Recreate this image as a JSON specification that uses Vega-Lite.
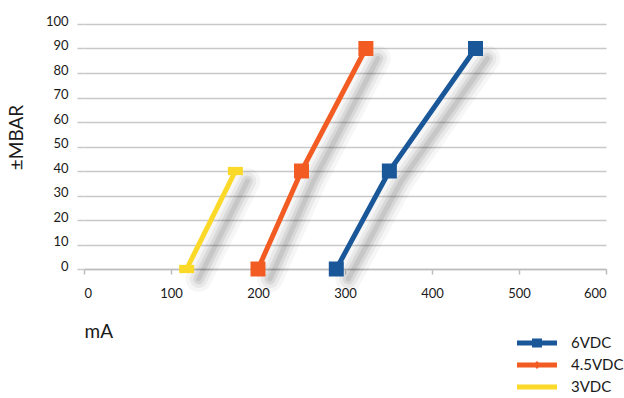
{
  "$schema": "https://vega.github.io/schema/vega-lite/v6.json",
  "width": 522,
  "height": 245,
  "autosize": {"type": "none"},
  "padding": {"left": 84, "top": 24, "right": 18, "bottom": 129},
  "background": "white",
  "data": {
    "values": [
      {"series": "6VDC", "mA": 290, "mbar": 0},
      {"series": "6VDC", "mA": 351, "mbar": 40},
      {"series": "6VDC", "mA": 450, "mbar": 90},
      {"series": "4.5VDC", "mA": 200, "mbar": 0},
      {"series": "4.5VDC", "mA": 250, "mbar": 40},
      {"series": "4.5VDC", "mA": 324, "mbar": 90},
      {"series": "3VDC", "mA": 118, "mbar": 0},
      {"series": "3VDC", "mA": 174, "mbar": 40}
    ]
  },
  "encoding": {
    "x": {
      "field": "mA", "type": "quantitative",
      "scale": {"domain": [0, 600], "nice": false},
      "axis": {
        "title": "mA", "values": [0, 100, 200, 300, 400, 500, 600],
        "grid": false, "domain": true, "domainColor": "#bdbdbd", "domainWidth": 1.5,
        "ticks": true, "tickColor": "#bdbdbd", "tickSize": 5, "tickWidth": 1.5,
        "labelFont": "Lato", "labelFontSize": 13, "labelColor": "#1a1a1a", "labelPadding": 13,
        "titleFont": "Lato", "titleFontSize": 19, "titleFontWeight": "normal", "titleColor": "#1a1a1a",
        "titleAnchor": "start", "titleAlign": "left", "titleX": 0, "titleY": 68, "titleBaseline": "alphabetic"
      }
    },
    "y": {
      "field": "mbar", "type": "quantitative",
      "scale": {"domain": [0, 100], "nice": false},
      "axis": {
        "title": "±MBAR", "values": [0, 10, 20, 30, 40, 50, 60, 70, 80, 90, 100],
        "grid": true, "gridColor": "#c8c8c8", "gridWidth": 1.5,
        "domain": false, "ticks": true, "tickSize": 7, "tickColor": "#c8c8c8", "tickWidth": 1.5,
        "labelFont": "Lato", "labelFontSize": 13, "labelColor": "#1a1a1a", "labelPadding": 9, "labelOffset": -3,
        "titleFont": "Lato", "titleFontSize": 19, "titleFontWeight": "normal", "titleColor": "#1a1a1a",
        "titleX": -62, "titleY": 113, "titleAlign": "center", "titleBaseline": "alphabetic", "titleAngle": -90
      }
    }
  },
  "layer": [
    {
      "mark": {"type": "line", "color": "black", "opacity": 0.035, "strokeWidth": 26, "xOffset": 12, "yOffset": 10, "strokeCap": "round"},
      "encoding": {"detail": {"field": "series"}}
    },
    {
      "mark": {"type": "line", "color": "black", "opacity": 0.05, "strokeWidth": 18, "xOffset": 12, "yOffset": 10, "strokeCap": "round"},
      "encoding": {"detail": {"field": "series"}}
    },
    {
      "mark": {"type": "line", "color": "black", "opacity": 0.07, "strokeWidth": 11, "xOffset": 12, "yOffset": 10, "strokeCap": "round"},
      "encoding": {"detail": {"field": "series"}}
    },
    {
      "mark": {"type": "line", "color": "black", "opacity": 0.08, "strokeWidth": 5, "xOffset": 12, "yOffset": 10, "strokeCap": "round"},
      "encoding": {"detail": {"field": "series"}}
    },
    {
      "mark": {"type": "line", "strokeWidth": 5},
      "encoding": {
        "color": {
          "field": "series", "type": "nominal",
          "scale": {"domain": ["6VDC", "4.5VDC", "3VDC"], "range": ["#1a5799", "#f25c22", "#fbd929"]}
        }
      }
    },
    {
      "transform": [{"filter": "datum.series != '3VDC'"}],
      "mark": {"type": "point", "shape": "square", "filled": true, "opacity": 1, "size": 225},
      "encoding": {
        "color": {"field": "series", "type": "nominal"}
      }
    },
    {
      "transform": [{"filter": "datum.series == '3VDC'"}],
      "mark": {"type": "point", "shape": "M-1,-0.55H1V0.55H-1Z", "filled": true, "opacity": 1, "size": 225, "color": "#fbd929"}
    },
    {
      "mark": {"type": "point", "filled": true, "opacity": 0, "size": 400},
      "encoding": {
        "color": {
          "field": "series", "type": "nominal",
          "legend": {
            "title": null, "orient": "none", "legendX": 443, "legendY": 309, "padding": 0,
            "symbolOpacity": 1, "symbolSize": 400, "symbolStrokeWidth": 0, "symbolType": "square",
            "labelOffset": 24, "rowPadding": 4,
            "labelFont": "Lato", "labelFontSize": 15, "labelColor": "#1a1a1a"
          }
        },
        "shape": {
          "field": "series", "type": "nominal",
          "scale": {
            "domain": ["6VDC", "4.5VDC", "3VDC"],
            "range": [
              "M-2,-0.25H2V0.25H-2Z M-0.5,-0.45H0.5V0.45H-0.5Z",
              "M-2,-0.25H2V0.25H-2Z M0,-0.4L0.4,0L0,0.4L-0.4,0Z",
              "M-2,-0.25H2V0.25H-2Z"
            ]
          },
          "legend": {
            "title": null, "orient": "none", "legendX": 443, "legendY": 309, "padding": 0,
            "symbolOpacity": 1, "symbolSize": 400, "symbolStrokeWidth": 0,
            "labelOffset": 24, "rowPadding": 4,
            "labelFont": "Lato", "labelFontSize": 15, "labelColor": "#1a1a1a"
          }
        }
      }
    }
  ],
  "config": {"view": {"stroke": null}}
}
